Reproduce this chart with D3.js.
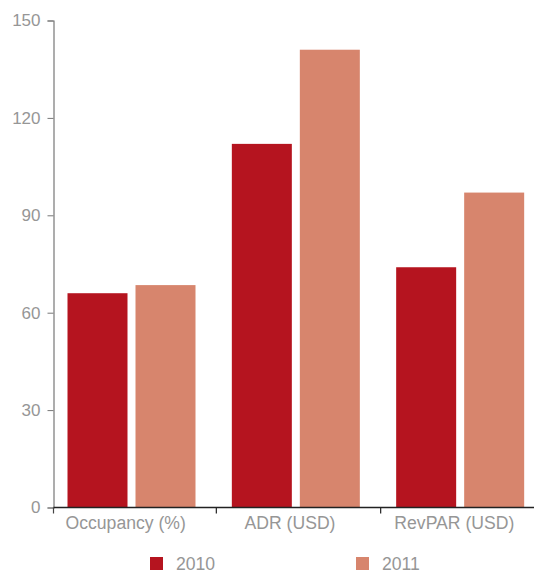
<!DOCTYPE html>
<html>
<head>
<meta charset="utf-8">
<script src="https://cdn.jsdelivr.net/npm/d3@7"></script>
<style>
  html, body { margin: 0; padding: 0; background: #fff; }
  svg { display: block; font-family: "Liberation Sans", Helvetica, Arial, sans-serif; }
</style>
</head>
<body>
<svg id="chart" width="534" height="570"></svg>
<script>
// Hotel performance indicators, 2010 vs 2011
const categories = ["Occupancy (%)", "ADR (USD)", "RevPAR (USD)"];
const seriesNames = ["2010", "2011"];
const values2010 = [66, 112, 74];
const values2011 = [68.5, 141, 97];
const yTicks = [0, 30, 60, 90, 120, 150];
const colors = ["#b5141f", "#d7856d"];

const seriesValues = [values2010, values2011];
const rows = categories.map((c, i) => ({
  category: c,
  values: seriesNames.map((s, j) => ({ series: s, value: seriesValues[j][i] }))
}));

const svg = d3.select("#chart");
const axisX = 53.5, plotTop = 20.5, plotBottom = 507.5;
const textColor = "#969696";

const x0 = d3.scaleBand().domain(categories).range([52, 545]);
const x1 = d3.scaleBand().domain(seriesNames)
  .range([15.5, 143.5]).paddingInner(8 / 68);
const y = d3.scaleLinear().domain([0, 150]).range([plotBottom, plotTop]);
const color = d3.scaleOrdinal().domain(seriesNames).range(colors);

// bars
svg.append("g").selectAll("g").data(rows).join("g")
  .attr("transform", d => `translate(${x0(d.category)},0)`)
  .selectAll("rect").data(d => d.values).join("rect")
  .attr("x", d => x1(d.series))
  .attr("width", x1.bandwidth())
  .attr("y", d => y(d.value))
  .attr("height", d => y(0) - y(d.value))
  .attr("fill", d => color(d.series));

// y axis
const yAxis = svg.append("g")
  .attr("transform", `translate(${axisX},0)`)
  .call(d3.axisLeft(y).tickValues(yTicks).tickSizeOuter(0).tickSize(6).tickPadding(7));
yAxis.select(".domain").attr("stroke", "#777").attr("stroke-width", 1.2);
yAxis.selectAll(".tick line").attr("stroke", "#777");
yAxis.selectAll("text").attr("fill", textColor).attr("font-size", 17);

// x axis: ticks at band boundaries
const boundaries = categories.map(c => x0(c));
const xg = svg.append("g");
xg.append("line")
  .attr("x1", axisX).attr("x2", x0.range()[1])
  .attr("y1", y(0)).attr("y2", y(0))
  .attr("stroke", "#222").attr("stroke-width", 1.5);
xg.selectAll("line.tick").data(boundaries.slice(1)).join("line")
  .attr("class", "tick")
  .attr("x1", d => d).attr("x2", d => d)
  .attr("y1", y(0)).attr("y2", y(0) + 6)
  .attr("stroke", "#222").attr("stroke-width", 1.2);
xg.append("line")
  .attr("x1", axisX).attr("x2", axisX)
  .attr("y1", y(0)).attr("y2", y(0) + 6)
  .attr("stroke", "#444").attr("stroke-width", 1.2);
xg.selectAll("text").data(categories).join("text")
  .attr("x", d => x0(d) + x0.bandwidth() / 2 - 8.5)
  .attr("y", y(0) + 21)
  .attr("text-anchor", "middle")
  .attr("fill", textColor)
  .attr("font-size", 17.6)
  .text(d => d);

// legend
const legendX = d3.scalePoint().domain(seriesNames).range([150, 356]);
const legend = svg.append("g").selectAll("g").data(seriesNames).join("g")
  .attr("transform", d => `translate(${legendX(d)},557)`);
legend.append("rect")
  .attr("width", 13).attr("height", 13)
  .attr("fill", d => color(d));
legend.append("text")
  .attr("x", 26).attr("y", 12.5)
  .attr("fill", textColor)
  .attr("font-size", 17.6)
  .text(d => d);
</script>
</body>
</html>
